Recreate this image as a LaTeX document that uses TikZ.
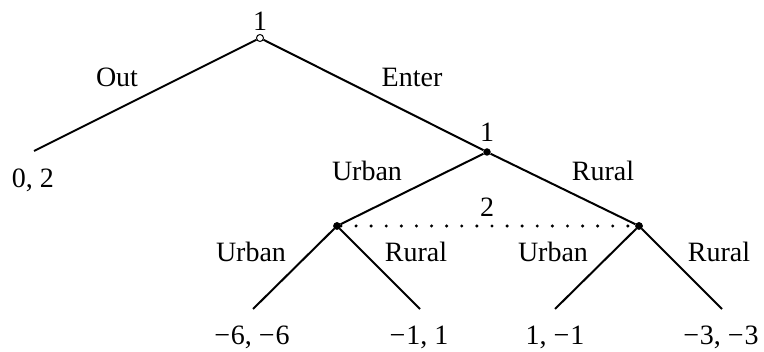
\documentclass[tikz,border=0pt]{standalone}
\usepackage{fontspec}
\setmainfont{Liberation Serif}
\newcommand{\mns}{−\kern0.8pt}
\begin{document}
\begin{tikzpicture}[x=1pt,y=-1pt,
  edge/.style={line width=2pt},
  soliddot/.style={circle,fill=black,inner sep=0pt,minimum size=7.5pt},
  opendot/.style={circle,draw=black,fill=white,line width=1pt,inner sep=0pt,minimum size=7pt},
  lbl/.style={anchor=base,inner sep=0pt,font=\fontsize{28}{32}\selectfont},
  info/.style={line width=3.4pt,line cap=round,dash pattern=on 0pt off 15.1pt}]
\useasboundingbox (0,0) rectangle (764,352);
% decision nodes
\node[soliddot] (n2) at (487,152) {};
\node[soliddot] (a) at (337,226) {};
\node[soliddot] (b) at (639,226) {};
% terminal points
\coordinate (t0) at (34,151);
\coordinate (t1) at (253,309);
\coordinate (t2) at (420,309);
\coordinate (t3) at (555,309);
\coordinate (t4) at (722,309);
% edges
\draw[info] (a) -- (b);
\node[opendot] (r) at (260,38) {};
\draw[edge] (r) -- (t0);
\draw[edge] (r) -- (n2);
\draw[edge] (n2) -- (a);
\draw[edge] (n2) -- (b);
\draw[edge] (a) -- (t1);
\draw[edge] (a) -- (t2);
\draw[edge] (b) -- (t3);
\draw[edge] (b) -- (t4);
\node[soliddot] at (a) {};
\node[soliddot] at (b) {};
% player labels
\node[lbl] (pr) at (260,31) {1};
\node[lbl] (p2) at (487,142) {1};
\node[lbl] (pi) at (487,217) {2};
% action labels
\node[lbl] (lout) at (117,87) {Out};
\node[lbl] (lent) at (412,87) {Enter};
\node[lbl] (lu) at (367,181) {Urban};
\node[lbl] (lr) at (603,181) {Rural};
\node[lbl] (lu1) at (251,262) {Urban};
\node[lbl] (lr1) at (416,262) {Rural};
\node[lbl] (lu2) at (553,262) {Urban};
\node[lbl] (lr2) at (719,262) {Rural};
% payoffs
\node[lbl] (y0) at (33,188) {0, 2};
\node[lbl] (y1) at (252,345) {\mns6, \mns6};
\node[lbl] (y2) at (419,345) {\mns1, 1};
\node[lbl] (y3) at (555,345) {1, \mns1};
\node[lbl] (y4) at (721,345) {\mns3, \mns3};
\end{tikzpicture}
\end{document}
